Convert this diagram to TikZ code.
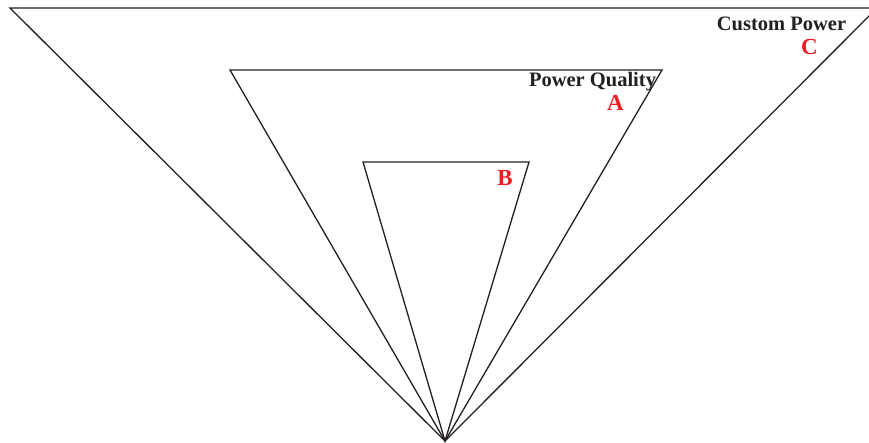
\documentclass[tikz,border=0pt]{standalone}
\usepackage{fontspec}
\setmainfont{Liberation Serif}
\definecolor{lblred}{RGB}{237,28,36}
\definecolor{txtdark}{RGB}{35,31,32}
\begin{document}
\begin{tikzpicture}[x=1pt,y=-1pt,
  tri/.style={draw=txtdark,line width=1.3pt,line join=miter},
  title/.style={font=\fontsize{20.5}{22}\selectfont\bfseries,text=txtdark,anchor=base,inner sep=0pt},
  letter/.style={font=\fontsize{23}{25}\selectfont\bfseries,text=lblred,anchor=base,inner sep=0pt}]
\useasboundingbox (0,0) rectangle (869,443);
\clip (0,0) rectangle (869,443);
\coordinate (apex) at (445,441);
\coordinate (c1) at (10,8);
\coordinate (c2) at (877,8);
\coordinate (a1) at (230,70);
\coordinate (a2) at (662,70);
\coordinate (b1) at (363,162);
\coordinate (b2) at (529,162);
\draw[tri] (apex) -- (c1) -- (c2) -- cycle;
\draw[tri] (apex) -- (a1) -- (a2) -- cycle;
\draw[tri] (apex) -- (b1) -- (b2) -- cycle;
\node[title] (cp) at (781.5,31) {Custom Power};
\node[letter] (cl) at (809.5,55) {C};
\node[title] (pq) at (592.5,87) {Power Quality};
\node[letter] (al) at (615.5,111) {A};
\node[letter] (bl) at (505,186) {B};
\end{tikzpicture}
\end{document}
